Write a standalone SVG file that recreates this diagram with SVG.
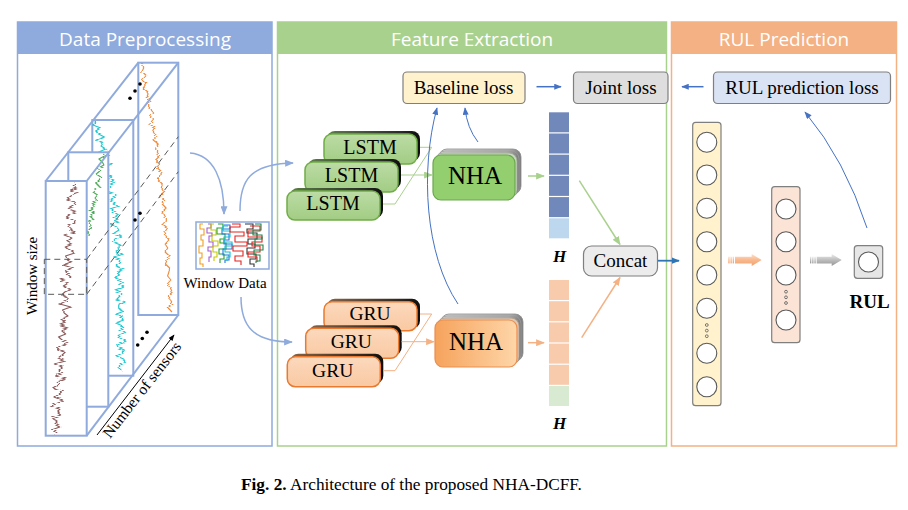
<svg xmlns="http://www.w3.org/2000/svg" width="908" height="510" viewBox="0 0 908 510">
<style>
.hdr{font-family:"Open Sans","Noto Sans",sans-serif;font-size:19px;fill:#ffffff;text-anchor:middle}
.tm{font-family:"Liberation Serif","Times New Roman",serif;fill:#000;text-anchor:middle}
.box3d{fill:#ffffff;stroke:#8faadc;stroke-width:2}
.edge{stroke:#8faadc;stroke-width:2;fill:none}
.dash{stroke:#595959;stroke-width:1;stroke-dasharray:6 4;fill:none}
.sig{fill:none;stroke-width:1.1;stroke-linejoin:round;filter:url(#jit)}
.lossbox{stroke:#7f7f7f;stroke-width:1.2}
.neur{fill:#ffffff;stroke:#595959;stroke-width:1.1}
.dot{fill:none;stroke:#595959;stroke-width:0.8}
.lstm{fill:url(#gLstm);stroke:#70ad47;stroke-width:1.5}
.gru{fill:url(#gGru);stroke:#e97a2f;stroke-width:1.5}
.shG{fill:url(#gShG)}
.shO{fill:url(#gShO)}
.wd{fill:none;stroke-width:1.1}
</style>
<defs>
<filter id="jit" x="-20%" y="-5%" width="140%" height="110%">
<feTurbulence type="fractalNoise" baseFrequency="0.03 0.7" numOctaves="1" seed="4" result="n"/>
<feDisplacementMap in="SourceGraphic" in2="n" scale="5" xChannelSelector="R" yChannelSelector="G"/>
</filter>
<linearGradient id="gLstm" x1="0" y1="0" x2="0" y2="1"><stop offset="0" stop-color="#bcdca5"/><stop offset="1" stop-color="#a2cd84"/></linearGradient>
<linearGradient id="gGru" x1="0" y1="0" x2="0" y2="1"><stop offset="0" stop-color="#fcd9bd"/><stop offset="1" stop-color="#f9c9a2"/></linearGradient>
<linearGradient id="gShG" x1="0" y1="0" x2="1" y2="0"><stop offset="0" stop-color="#5d7d48"/><stop offset="0.8" stop-color="#2a2a2a"/><stop offset="1" stop-color="#0d0d0d"/></linearGradient>
<linearGradient id="gShO" x1="0" y1="0" x2="1" y2="0"><stop offset="0" stop-color="#8a6446"/><stop offset="0.8" stop-color="#2e2620"/><stop offset="1" stop-color="#0d0d0d"/></linearGradient>
<linearGradient id="gNhaO" x1="0" y1="0" x2="1" y2="0"><stop offset="0" stop-color="#f6a35c"/><stop offset="1" stop-color="#fed6a9"/></linearGradient>
<linearGradient id="gLay" x1="0" y1="0" x2="1" y2="0"><stop offset="0" stop-color="#d6d6d6"/><stop offset="0.85" stop-color="#b0b0b0"/><stop offset="1" stop-color="#7a7a7a"/></linearGradient>
<linearGradient id="gArO" x1="0" y1="0" x2="0" y2="1"><stop offset="0" stop-color="#fde0cb"/><stop offset="0.5" stop-color="#f8b98e"/><stop offset="1" stop-color="#f2a06a"/></linearGradient>
<linearGradient id="gArG" x1="0" y1="0" x2="0" y2="1"><stop offset="0" stop-color="#ececec"/><stop offset="0.5" stop-color="#bdbdbd"/><stop offset="1" stop-color="#959595"/></linearGradient>
<marker id="mLb" viewBox="0 0 10 8" refX="9" refY="4" markerWidth="9" markerHeight="7" markerUnits="userSpaceOnUse" orient="auto"><path d="M0,0 L10,4 L0,8 z" fill="#8faadc"/></marker>
<marker id="mB" viewBox="0 0 10 8" refX="9" refY="4" markerWidth="8" markerHeight="6" markerUnits="userSpaceOnUse" orient="auto"><path d="M0,0 L10,4 L0,8 z" fill="#4472c4"/></marker>
<marker id="mDB" viewBox="0 0 10 8" refX="9" refY="4" markerWidth="8" markerHeight="7" markerUnits="userSpaceOnUse" orient="auto"><path d="M0,0 L10,4 L0,8 z" fill="#2e75b6"/></marker>
<marker id="mG" viewBox="0 0 10 8" refX="9" refY="4" markerWidth="9" markerHeight="7" markerUnits="userSpaceOnUse" orient="auto"><path d="M0,0 L10,4 L0,8 z" fill="#a9d18e"/></marker>
<marker id="mO" viewBox="0 0 10 8" refX="9" refY="4" markerWidth="9" markerHeight="7" markerUnits="userSpaceOnUse" orient="auto"><path d="M0,0 L10,4 L0,8 z" fill="#f4b183"/></marker>
<marker id="mK" viewBox="0 0 10 8" refX="9" refY="4" markerWidth="7" markerHeight="5" markerUnits="userSpaceOnUse" orient="auto"><path d="M0,0 L10,4 L0,8 z" fill="#000"/></marker>
</defs>
<rect width="908" height="510" fill="#ffffff"/>

<!-- panels -->
<g id="panel-preprocessing">
<rect x="17.5" y="22" width="254.5" height="424" fill="none" stroke="#8faadc" stroke-width="1.5"/>
<rect x="17.5" y="22" width="254.5" height="32" fill="#8faadc"/>
<text class="hdr" x="145" y="45.5">Data Preprocessing</text>
</g>
<g id="panel-feature">
<rect x="277.5" y="22" width="389" height="424" fill="none" stroke="#a9d18e" stroke-width="1.5"/>
<rect x="277.5" y="22" width="389" height="32" fill="#a9d18e"/>
<text class="hdr" x="472" y="45.5">Feature Extraction</text>
</g>
<g id="panel-rul">
<rect x="671.5" y="22" width="225" height="424" fill="none" stroke="#f4b183" stroke-width="1.5"/>
<rect x="671.5" y="22" width="225" height="32" fill="#f4b183"/>
<text class="hdr" x="784" y="45.5">RUL Prediction</text>
</g>

<!-- sensor data cube -->
<g id="sensor-cube">
<rect class="box3d" x="138.3" y="62.7" width="40" height="252.3"/>
<polyline class="sig" stroke="#f08a3c" points="141,64 143.8,68 141.6,72 145.8,76 142.1,80 145.9,84 143.2,88 147.9,92 146.2,96 150,100 146.7,104 149.9,108 152.7,112 149.4,116 152.6,120 149.8,124 155,128 153.3,132 156,136 153.2,140 158.4,144 155.6,148 157.2,152 159.7,156 155.6,160 159.6,164 157.5,168 162,172 159.5,176 158.4,180 162.4,184 161.3,188 163.8,192 159.8,196 163.7,200 162.2,204 166.1,208 162.1,212 165,216 166.5,220 162.8,224 167.5,228 164.8,232 166,236 168.8,240 165.1,244 167.8,248 165.1,252 169.3,256 167.1,260 165.4,264 169.6,268 168.9,272 167.6,276 170.9,280 167.2,284 170.4,288 172.2,292 168.4,296 170.2,300 172,304 168.2,308 172,312"/>
<rect class="box3d" x="92.3" y="120" width="41" height="255.7"/>
<polyline class="sig" stroke="#1fc8d0" points="96,122 92.9,125 100.7,128 95.6,131 98.5,134 104.4,137 96.2,140 103.1,143 101,146 105.8,149 98.7,152 108.6,155 105.4,158 104.2,161 111.7,164 104.2,167 108.8,170 104.3,173 111.8,176 108.3,179 114.9,182 108.4,185 110.9,188 106.4,191 116,194 114.5,197 110,200 114.3,203 118.6,206 109.9,209 113.2,212 117.5,215 112.8,218 119.1,221 110.4,224 115.7,227 118,230 113.3,233 121.6,236 115.9,239 113.2,242 120.5,245 118.8,248 116.1,251 122.4,254 113.7,257 121,260 119.1,263 116.2,266 124.2,269 117.3,272 120.4,275 115.5,278 122.6,281 118.6,284 123.7,287 114.8,290 121.9,293 120,296 117,299 125.1,302 119.2,305 118.3,308 124.4,311 116.4,314 121.5,317 123.6,320 115.7,323 122.8,326 119.8,329 124.9,332 118,335 121.1,338 126.2,341 119.2,344 117.3,347 124.4,350 122.5,353 116.6,356 123.6,359 125.7,362 120.8,365 118.9,368 122,371"/>
<rect class="box3d" x="68.3" y="152.3" width="40" height="254.4"/>
<polyline class="sig" stroke="#4daa57" points="103,153 104.5,156 98.9,159 102.4,162 103.9,165 98.3,168 99.8,171 96.2,174 100.7,177 99.2,180 95.6,183 100.1,186 95.6,189 93,192 97.5,195 95,198 97.4,201 91.9,204 94.4,207 89.8,210 94.3,213 90.7,216 94.2,219 88.7,222 90.1,225 91.6,228 86.1,231 89.5,234 87,237"/>
<rect class="box3d" x="45.7" y="181" width="41" height="254.7"/>
<polyline class="sig" stroke="#8b5a5a" points="73.9,184 77.7,187 70.5,190 78.2,193 71,196 66.8,199 75.6,202 73.3,205 68.1,208 77.9,211 70.7,214 66.4,217 73.2,220 75,223 67.8,226 70.5,229 75.3,232 64.1,235 71.9,238 67.6,241 73.4,244 65.2,247 70,250 74.7,253 65.5,256 67.3,259 71.1,262 62.8,265 72.6,268 65.4,271 67.2,274 70.9,277 60.7,280 68.5,283 63.3,286 71,289 64.8,292 61.6,295 68.4,298 66.1,301 59.9,304 70.7,307 62.5,310 64.2,313 68,316 60.8,319 65.6,322 57.3,325 68.1,328 61.9,331 65.7,334 58.4,337 62.2,340 68,343 59.8,346 56.5,349 65.3,352 62.1,355 57.9,358 65.6,361 54.4,364 62.2,367 59,370 62.7,373 55.5,376 65.3,379 57.1,382 58.8,385 53.6,388 62.4,391 59.2,394 54.9,397 62.7,400 55.5,403 51.3,406 60,409 56.8,412 60.6,415 52.4,418 58.1,421 54.9,424 60.7,427 52.5,430 56.2,433"/>
<line class="edge" x1="45.7" y1="181" x2="138.3" y2="62.7"/>
<line class="edge" x1="86.7" y1="181" x2="178.3" y2="62.7"/>
<line class="edge" x1="86.7" y1="435.7" x2="178.3" y2="315"/>
<rect class="dash" x="44.3" y="259.3" width="42.4" height="35"/>
<line class="dash" x1="86.7" y1="259.3" x2="178.3" y2="136.7"/>
<line class="dash" x1="86.7" y1="294.3" x2="178.3" y2="171.7"/>
<circle cx="130" cy="98.3" r="1.8" fill="#000"/>
<circle cx="135" cy="91" r="1.8" fill="#000"/>
<circle cx="140" cy="84" r="1.8" fill="#000"/>
<circle cx="135" cy="220" r="1.8" fill="#000"/>
<circle cx="140" cy="213.3" r="1.8" fill="#000"/>
<circle cx="137.7" cy="345" r="1.8" fill="#000"/>
<circle cx="142.3" cy="338.5" r="1.8" fill="#000"/>
<circle cx="147" cy="332.3" r="1.8" fill="#000"/>
<text class="tm" font-size="15" transform="translate(36.5,276) rotate(-90)">Window size</text>
<line x1="97" y1="435" x2="174" y2="335" stroke="#000" stroke-width="1" marker-end="url(#mK)"/>
<text class="tm" font-size="15.5" style="text-anchor:start" transform="translate(110,439) rotate(-52)">Number of sensors</text>
</g>

<!-- window data -->
<g id="window-data">
<rect x="196" y="222" width="73" height="47" fill="#ffffff" stroke="#8faadc" stroke-width="1.5"/>
<path class="wd" stroke="#f0a020" d="M203,224 h-3 v5 h4 v6 h-3 v5 h2 v6 h-4 v7 h3 v5 h-2 v6 h3 v3"/>
<path class="wd" stroke="#a45fd0" d="M208,224 h3 v4 h-4 v5 h5 v3 h-3 v6 h4 v5 h-5 v4 h3 v6 h-2 v5"/>
<path class="wd" stroke="#c8c800" d="M214,224 h-3 v6 h5 v5 h-4 v6 h6 v5 h-5 v6 h4 v5 h-3 v4"/>
<path class="wd" stroke="#2ca02c" d="M218,224 h5 v4 h-6 v6 h8 v5 h-5 v4 h6 v6 h-7 v5 h5 v5 h-4 v4"/>
<path class="wd" stroke="#1f77e0" d="M224,225 h6 v4 h-8 v5 h7 v6 h-5 v4 h8 v5 h-9 v6 h6 v5 h-4 v3"/>
<path class="wd" stroke="#17becf" d="M228,226 h-5 v5 h7 v6 h-6 v5 h8 v4 h-7 v6 h5 v5 h-3 v4"/>
<path class="wd" stroke="#e8231f" d="M232,224 h8 v3 h-10 v5 h14 v4 h-9 v6 h12 v4 h-14 v5 h10 v5 h-8 v5 h6 v4"/>
<path class="wd" stroke="#333333" d="M245,224 h8 v5 h-6 v4 h10 v6 h-9 v5 h7 v4 h-8 v6 h9 v5 h-6 v5 h4 v3"/>
<path class="wd" stroke="#e8231f" d="M250,226 h10 v5 h-12 v6 h14 v5 h-10 v4 h8 v6 h-12 v5 h9 v5"/>
<path class="wd" stroke="#1e8449" d="M255,224 h6 v6 h-8 v5 h9 v4 h-7 v6 h8 v5 h-9 v5 h6 v6 h-4 v2"/>
<text class="tm" font-size="15" x="225" y="287.5">Window Data</text>
</g>

<!-- LSTM stack -->
<g id="lstm-1">
<rect class="shG" x="327" y="131" width="93" height="30" rx="8"/>
<rect class="lstm" x="324" y="134" width="93" height="30" rx="8"/>
<text class="tm" font-size="20" x="370" y="153.5">LSTM</text>
</g>
<g id="lstm-2">
<rect class="shG" x="308" y="159" width="93" height="30" rx="8"/>
<rect class="lstm" x="305" y="162" width="93" height="30" rx="8"/>
<text class="tm" font-size="20" x="351.5" y="181.7">LSTM</text>
</g>
<g id="lstm-3">
<rect class="shG" x="290" y="188" width="93" height="30" rx="8"/>
<rect class="lstm" x="287" y="191" width="93" height="29" rx="8"/>
<text class="tm" font-size="20" x="333" y="210">LSTM</text>
</g>

<!-- GRU stack -->
<g id="gru-1">
<rect class="shO" x="327" y="298.7" width="93" height="30" rx="8"/>
<rect class="gru" x="324" y="301.7" width="93" height="29" rx="8"/>
<text class="tm" font-size="19.5" x="370" y="320">GRU</text>
</g>
<g id="gru-2">
<rect class="shO" x="308.7" y="325.3" width="93" height="30" rx="8"/>
<rect class="gru" x="305.7" y="328.3" width="93" height="30" rx="8"/>
<text class="tm" font-size="19.5" x="351.3" y="348.3">GRU</text>
</g>
<g id="gru-3">
<rect class="shO" x="290.3" y="353.7" width="93" height="30" rx="8"/>
<rect class="gru" x="287.3" y="356.7" width="93" height="30" rx="8"/>
<text class="tm" font-size="19.5" x="332.7" y="376.7">GRU</text>
</g>

<!-- NHA green -->
<g id="nha-lstm">
<rect x="439" y="149" width="82" height="45" rx="8" fill="url(#gLay)" stroke="#8a8a8a" stroke-width="0.8"/>
<rect x="437" y="151" width="82" height="45" rx="8" fill="url(#gLay)" stroke="#9a9a9a" stroke-width="0.8"/>
<rect x="435" y="153" width="82" height="45" rx="8" fill="#c8d6bd" stroke="#9aa890" stroke-width="0.8"/>
<rect x="433" y="155" width="82" height="45" rx="8" fill="#93cf6e" stroke="#6aa84f" stroke-width="1.2"/>
<text class="tm" font-size="25" x="475" y="184">NHA</text>
</g>
<!-- NHA orange -->
<g id="nha-gru">
<rect x="441" y="314" width="82" height="47" rx="8" fill="url(#gLay)" stroke="#8a8a8a" stroke-width="0.8"/>
<rect x="439" y="316" width="82" height="47" rx="8" fill="url(#gLay)" stroke="#9a9a9a" stroke-width="0.8"/>
<rect x="437" y="318" width="82" height="47" rx="8" fill="#dcc9b8" stroke="#b09a88" stroke-width="0.8"/>
<rect x="435" y="320" width="82" height="47" rx="8" fill="url(#gNhaO)" stroke="#e98f50" stroke-width="1.2"/>
<text class="tm" font-size="25" x="476" y="350">NHA</text>
</g>

<!-- losses -->
<g id="baseline-loss">
<rect class="lossbox" x="403" y="72" width="122" height="31.5" rx="4" fill="#fff2cc"/>
<text class="tm" font-size="19" x="463.5" y="93.5">Baseline loss</text>
</g>
<g id="joint-loss">
<rect class="lossbox" x="573.5" y="72" width="94.5" height="31.5" rx="4" fill="#dedede"/>
<text class="tm" font-size="19" x="621" y="93.5">Joint loss</text>
</g>
<g id="rul-loss">
<rect class="lossbox" x="713.5" y="72" width="177" height="31.5" rx="4" fill="#dae3f3"/>
<text class="tm" font-size="19" x="802" y="93.5">RUL prediction loss</text>
</g>

<!-- H vectors -->
<g id="h-lstm">
<rect x="549" y="112.3" width="20" height="20" fill="#7189ba"/>
<rect x="549" y="133.5" width="20" height="20" fill="#7189ba"/>
<rect x="549" y="154.7" width="20" height="20" fill="#7189ba"/>
<rect x="549" y="175.9" width="20" height="20" fill="#7189ba"/>
<rect x="549" y="197.1" width="20" height="20" fill="#7189ba"/>
<rect x="549" y="218.3" width="20" height="20" fill="#bdd7ee"/>
<text class="tm" font-size="17" font-weight="bold" font-style="italic" x="559.5" y="262">H</text>
</g>
<g id="h-gru">
<rect x="549" y="280" width="20" height="20" fill="#f8cbad"/>
<rect x="549" y="301.2" width="20" height="20" fill="#f8cbad"/>
<rect x="549" y="322.4" width="20" height="20" fill="#f8cbad"/>
<rect x="549" y="343.6" width="20" height="20" fill="#f8cbad"/>
<rect x="549" y="364.8" width="20" height="20" fill="#f8cbad"/>
<rect x="549" y="386" width="20" height="20" fill="#d9ead3"/>
<text class="tm" font-size="17" font-weight="bold" font-style="italic" x="559.5" y="428.5">H</text>
</g>

<g id="concat">
<rect x="583.5" y="246" width="74" height="30" rx="8" fill="#ececec" stroke="#7f7f7f" stroke-width="1.2"/>
<text class="tm" font-size="19" x="620.5" y="266.5">Concat</text>
</g>

<!-- dense layers -->
<g id="dense-1">
<rect x="692.7" y="122.3" width="28.3" height="283.4" rx="3" fill="#fff2cc" stroke="#7f7f7f" stroke-width="1.2"/>
<circle class="neur" cx="706.8" cy="142.3" r="10"/>
<circle class="neur" cx="706.8" cy="175" r="10"/>
<circle class="neur" cx="706.8" cy="208.3" r="10"/>
<circle class="neur" cx="706.8" cy="241.7" r="10"/>
<circle class="neur" cx="706.8" cy="275" r="10"/>
<circle class="neur" cx="706.8" cy="308.3" r="10"/>
<circle class="dot" cx="706.8" cy="325" r="1.4"/>
<circle class="dot" cx="706.8" cy="330.6" r="1.4"/>
<circle class="dot" cx="706.8" cy="336.2" r="1.4"/>
<circle class="neur" cx="706.8" cy="353.3" r="10"/>
<circle class="neur" cx="706.8" cy="386.7" r="10"/>
</g>
<g id="dense-2">
<rect x="771.7" y="186.7" width="28.3" height="156" rx="3" fill="#fbe3d6" stroke="#7f7f7f" stroke-width="1.2"/>
<circle class="neur" cx="786" cy="209" r="10"/>
<circle class="neur" cx="786" cy="241.7" r="10"/>
<circle class="neur" cx="786" cy="275" r="10"/>
<circle class="dot" cx="786" cy="291.7" r="1.4"/>
<circle class="dot" cx="786" cy="297.3" r="1.4"/>
<circle class="dot" cx="786" cy="303" r="1.4"/>
<circle class="neur" cx="786" cy="320" r="10"/>
</g>
<g id="rul-output">
<rect x="854.3" y="245.7" width="28.4" height="32.6" rx="3" fill="#e7e6e6" stroke="#7f7f7f" stroke-width="1.2"/>
<circle class="neur" cx="868.5" cy="262" r="10"/>
<text class="tm" font-size="19" font-weight="bold" x="869.5" y="308.3">RUL</text>
</g>

<!-- connectors -->
<g id="connectors" fill="none">
<path d="M190,153 C214,155 224,180 224,214" stroke="#8faadc" stroke-width="1.5" marker-end="url(#mLb)"/>
<path d="M240,211 C240,180 250,164 293,163" stroke="#8faadc" stroke-width="1.5" marker-end="url(#mLb)"/>
<path d="M241,297 C241,325 252,342 292,342" stroke="#8faadc" stroke-width="1.5" marker-end="url(#mLb)"/>
<path d="M420,147.3 H431.7 L395,204 H383" stroke="#a9d18e" stroke-width="1"/>
<path d="M401,175 H432" stroke="#a9d18e" stroke-width="1" marker-end="url(#mG)"/>
<path d="M420,314 H431.7 L395,370.7 H383" stroke="#f4b183" stroke-width="1"/>
<path d="M401.5,341.7 H434" stroke="#f4b183" stroke-width="1" marker-end="url(#mO)"/>
<path d="M528,176 H544" stroke="#a9d18e" stroke-width="1.5" marker-end="url(#mG)"/>
<path d="M528,342.7 H544" stroke="#f4b183" stroke-width="1.5" marker-end="url(#mO)"/>
<path d="M579.3,180.7 L620,244.5" stroke="#a9d18e" stroke-width="1.5" marker-end="url(#mG)"/>
<path d="M581.7,337.7 L620,277.5" stroke="#f4b183" stroke-width="1.5" marker-end="url(#mO)"/>
<path d="M658,260.7 H679" stroke="#2e75b6" stroke-width="1.8" marker-end="url(#mDB)"/>
<path d="M458,304 C425,255 420,170 437,108" stroke="#4472c4" stroke-width="1" marker-end="url(#mB)"/>
<path d="M478,142 Q467,128 465,108" stroke="#4472c4" stroke-width="1" marker-end="url(#mB)"/>
<path d="M536.5,86.7 H561" stroke="#4472c4" stroke-width="1.5" marker-end="url(#mB)"/>
<path d="M703.5,86.7 H682" stroke="#4472c4" stroke-width="1.5" marker-end="url(#mB)"/>
<path d="M867,228 Q845,160 805,112" stroke="#4472c4" stroke-width="1" marker-end="url(#mB)"/>
<g id="block-arrow-orange" fill="url(#gArO)">
<rect x="728.3" y="256.7" width="1.3" height="6.7"/>
<rect x="730.5" y="256.7" width="1.3" height="6.7"/>
<rect x="732.7" y="256.7" width="1.3" height="6.7"/>
<path d="M735,256.7 H751.7 V254 L761.7,260 L751.7,266 V263.4 H735 Z"/>
</g>
<g id="block-arrow-grey" fill="url(#gArG)">
<rect x="810" y="256.7" width="1.3" height="6.7"/>
<rect x="812.2" y="256.7" width="1.3" height="6.7"/>
<rect x="814.4" y="256.7" width="1.3" height="6.7"/>
<path d="M816.7,256.7 H831.7 V254 L841.7,260 L831.7,266 V263.4 H816.7 Z"/>
</g>
</g>

<text class="tm" font-size="17.3" x="241" y="489.5" style="text-anchor:start"><tspan font-weight="bold">Fig. 2.</tspan> Architecture of the proposed NHA-DCFF.</text>
</svg>
